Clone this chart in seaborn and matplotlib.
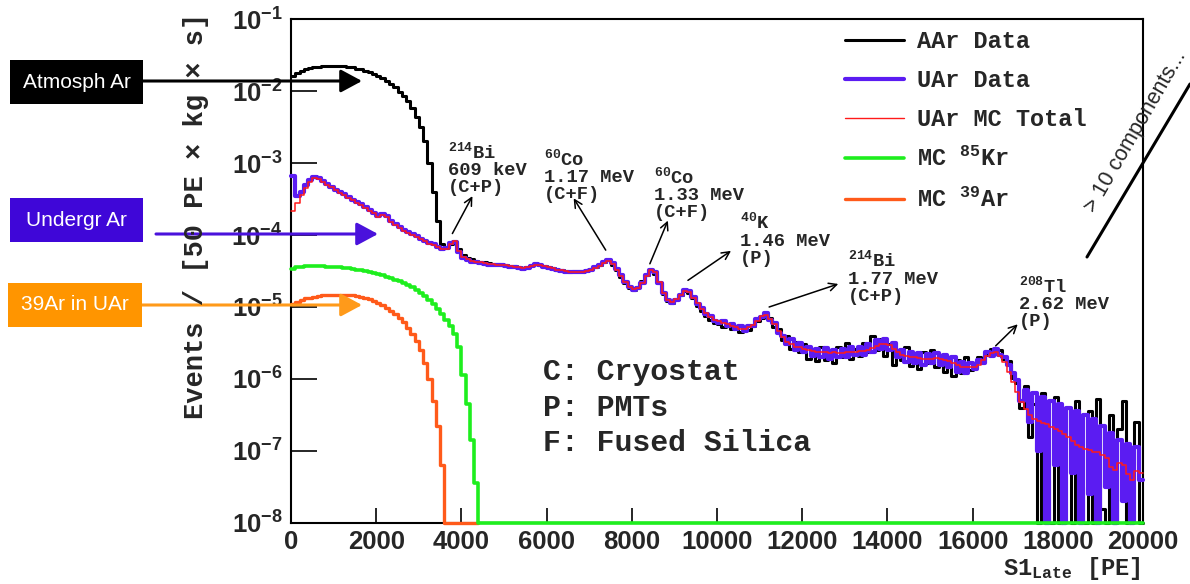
import numpy as np
import pandas as pd
import matplotlib
matplotlib.use("Agg")
import matplotlib.pyplot as plt
import seaborn as sns
from matplotlib.lines import Line2D
from matplotlib.patches import Rectangle
from matplotlib.ticker import LogLocator, FuncFormatter, MultipleLocator, NullFormatter

# ---------------- data (log10 of events / [50 PE x kg x s]) ----------------
BIN_PE = 100
X_MAX = 20000
FLOOR_LOG = -8.0

aar_log = [
    -1.79, -1.75, -1.72, -1.70, -1.68, -1.67, -1.66, -1.655, -1.65, -1.65,
    -1.65, -1.65, -1.655, -1.66, -1.67, -1.69, -1.70, -1.72, -1.74, -1.76,
    -1.79, -1.82, -1.86, -1.90, -1.95, -2.01, -2.07, -2.14, -2.23, -2.36,
    -2.50, -2.69, -3.00, -3.40, -3.80, -4.12, -4.17, -4.13, -4.10, -4.20,
    -4.28, -4.32, -4.34, -4.36, -4.37, -4.38, -4.39, -4.40, -4.40, -4.41,
    -4.42, -4.43, -4.43, -4.45, -4.46, -4.44, -4.42, -4.40, -4.41, -4.43,
    -4.45, -4.46, -4.48, -4.49, -4.50, -4.51, -4.50, -4.50, -4.50, -4.48,
    -4.47, -4.45, -4.41, -4.38, -4.35, -4.41, -4.48, -4.58, -4.66, -4.73,
    -4.76, -4.72, -4.64, -4.55, -4.49, -4.54, -4.67, -4.82, -4.91, -4.94,
    -4.89, -4.84, -4.78, -4.80, -4.88, -4.98, -5.05, -5.12, -5.18, -5.22,
    -5.24, -5.28, -5.26, -5.31, -5.29, -5.35, -5.30, -5.32, -5.26, -5.20,
    -5.15, -5.10, -5.15, -5.28, -5.30, -5.46, -5.40, -5.58, -5.48, -5.62,
    -5.52, -5.72, -5.60, -5.75, -5.56, -5.74, -5.62, -5.78, -5.55, -5.70,
    -5.50, -5.72, -5.58, -5.68, -5.50, -5.62, -5.40, -5.60, -5.45, -5.68,
    -5.52, -5.80, -5.60, -5.74, -5.55, -5.82, -5.64, -5.86, -5.62, -5.78,
    -5.60, -5.84, -5.66, -5.90, -5.72, -5.96, -5.74, -5.92, -5.70, -5.88,
    -5.78, -5.70, -5.72, -5.66, -5.58, -5.62, -5.60, -5.72, -5.75, -5.98,
    -6.05, -6.40, -6.10, -6.80, -6.35, -8.00, -6.20, -7.40, -8.00, -6.25,
    -8.00, -6.90, -6.40, -8.00, -6.30, -7.50, -8.00, -6.45, -8.00, -6.28,
    -7.80, -8.00, -6.50, -8.00, -6.70, -6.30, -8.00, -7.20, -6.60, -8.00,
]

uar_log = [
    -3.18, -3.46, -3.40, -3.30, -3.23, -3.19, -3.21, -3.25, -3.29, -3.33,
    -3.37, -3.40, -3.43, -3.47, -3.51, -3.54, -3.57, -3.61, -3.65, -3.69,
    -3.73, -3.71, -3.74, -3.81, -3.85, -3.89, -3.93, -3.96, -3.99, -4.02,
    -4.05, -4.08, -4.11, -4.13, -4.16, -4.19, -4.18, -4.11, -4.10, -4.23,
    -4.32, -4.35, -4.37, -4.38, -4.39, -4.40, -4.41, -4.41, -4.42, -4.42,
    -4.43, -4.44, -4.45, -4.46, -4.47, -4.46, -4.43, -4.40, -4.41, -4.44,
    -4.46, -4.47, -4.49, -4.50, -4.51, -4.52, -4.52, -4.52, -4.51, -4.50,
    -4.48, -4.45, -4.42, -4.38, -4.35, -4.39, -4.47, -4.56, -4.65, -4.72,
    -4.76, -4.73, -4.66, -4.56, -4.48, -4.52, -4.66, -4.81, -4.90, -4.94,
    -4.90, -4.84, -4.77, -4.78, -4.86, -4.96, -5.02, -5.10, -5.13, -5.19,
    -5.22, -5.20, -5.26, -5.24, -5.30, -5.27, -5.33, -5.26, -5.27, -5.17,
    -5.14, -5.08, -5.18, -5.22, -5.36, -5.40, -5.52, -5.45, -5.60, -5.50,
    -5.62, -5.55, -5.68, -5.58, -5.70, -5.57, -5.72, -5.60, -5.69, -5.58,
    -5.70, -5.55, -5.67, -5.56, -5.66, -5.52, -5.62, -5.46, -5.58, -5.45,
    -5.60, -5.50, -5.70, -5.60, -5.76, -5.62, -5.78, -5.64, -5.80, -5.65,
    -5.78, -5.64, -5.80, -5.66, -5.84, -5.70, -5.90, -5.76, -5.92, -5.78,
    -5.86, -5.74, -5.78, -5.62, -5.68, -5.58, -5.66, -5.70, -5.80, -5.92,
    -6.02, -6.30, -6.15, -6.60, -6.20, -7.00, -6.25, -8.00, -6.30, -7.20,
    -6.35, -8.00, -6.40, -7.30, -6.45, -8.00, -6.50, -7.60, -6.55, -8.00,
    -6.65, -7.50, -6.75, -8.00, -6.85, -7.70, -6.90, -8.00, -6.95, -7.40,
]

mc_total_log = [
    -3.67, -3.55, -3.45, -3.35, -3.26, -3.21, -3.22, -3.26, -3.30, -3.34,
    -3.38, -3.41, -3.44, -3.48, -3.52, -3.55, -3.58, -3.62, -3.66, -3.70,
    -3.75, -3.72, -3.75, -3.82, -3.86, -3.90, -3.94, -3.97, -4.00, -4.03,
    -4.06, -4.09, -4.12, -4.14, -4.17, -4.20, -4.19, -4.12, -4.09, -4.22,
    -4.31, -4.34, -4.36, -4.37, -4.38, -4.39, -4.40, -4.40, -4.41, -4.41,
    -4.42, -4.43, -4.44, -4.45, -4.46, -4.45, -4.43, -4.41, -4.41, -4.43,
    -4.45, -4.46, -4.48, -4.49, -4.50, -4.51, -4.51, -4.51, -4.51, -4.50,
    -4.48, -4.46, -4.43, -4.39, -4.36, -4.40, -4.48, -4.57, -4.65, -4.72,
    -4.75, -4.73, -4.67, -4.57, -4.49, -4.52, -4.65, -4.80, -4.90, -4.93,
    -4.89, -4.83, -4.78, -4.79, -4.87, -4.95, -5.03, -5.09, -5.14, -5.18,
    -5.20, -5.22, -5.24, -5.26, -5.28, -5.30, -5.30, -5.28, -5.25, -5.19,
    -5.13, -5.11, -5.16, -5.24, -5.33, -5.42, -5.48, -5.52, -5.55, -5.56,
    -5.58, -5.60, -5.61, -5.62, -5.63, -5.62, -5.64, -5.63, -5.64, -5.64,
    -5.63, -5.63, -5.62, -5.61, -5.61, -5.60, -5.57, -5.54, -5.52, -5.51,
    -5.53, -5.58, -5.63, -5.66, -5.68, -5.69, -5.70, -5.71, -5.72, -5.72,
    -5.72, -5.71, -5.72, -5.73, -5.75, -5.78, -5.81, -5.83, -5.84, -5.84,
    -5.83, -5.80, -5.74, -5.68, -5.64, -5.63, -5.68, -5.76, -5.90, -6.04,
    -6.18, -6.32, -6.42, -6.50, -6.56, -6.58, -6.61, -6.63, -6.66, -6.70,
    -6.72, -6.76, -6.80, -6.86, -6.92, -6.95, -6.97, -6.99, -7.01, -7.02,
    -7.05, -7.10, -7.22, -7.26, -7.17, -7.20, -7.32, -7.40, -7.28, -7.31,
]

kr85_log = [
    -4.47, -4.45, -4.44, -4.43, -4.43, -4.43, -4.43, -4.43, -4.44, -4.44,
    -4.45, -4.45, -4.46, -4.46, -4.47, -4.48, -4.49, -4.50, -4.51, -4.53,
    -4.54, -4.56, -4.58, -4.60, -4.62, -4.64, -4.66, -4.69, -4.72, -4.76,
    -4.80, -4.85, -4.90, -4.96, -5.03, -5.10, -5.18, -5.27, -5.38, -5.55,
    -5.95, -6.35, -6.85, -7.45, -8.00,
]

ar39_log = [
    -4.96, -4.93, -4.90, -4.88, -4.87, -4.86, -4.85, -4.84, -4.84, -4.83,
    -4.83, -4.83, -4.83, -4.84, -4.84, -4.85, -4.86, -4.87, -4.89, -4.91,
    -4.94, -4.97, -5.01, -5.05, -5.10, -5.15, -5.21, -5.29, -5.37, -5.47,
    -5.60, -5.78, -6.00, -6.30, -6.65, -7.20, -8.00, -8.00, -8.00, -8.00,
    -8.00, -8.00, -8.00, -8.00,
]

series_names = ["AAr Data", "UAr Data", "UAr MC Total", "MC $^{85}$Kr", "MC $^{39}$Ar"]
series_colors = ["#000000", "#5B1CF2", "#FF1A1A", "#1EEE1E", "#FF5A1A"]
series_widths = [2.2, 3.0, 1.1, 2.6, 2.4]
series_zorder = [3.0, 3.1, 3.2, 3.4, 3.3]


def histo_frame(logvals, end_pe):
    pe = list(np.arange(len(logvals)) * BIN_PE) + [end_pe]
    vals = list(logvals) + [logvals[-1]]
    return pd.DataFrame({"pe": pe, "rate": np.power(10.0, vals)})


# ---------------- styling ----------------
sns.set_theme(style="white")
plt.rcParams["font.family"] = ["Liberation Sans", "DejaVu Sans"]
plt.rcParams["font.weight"] = "bold"
plt.rcParams["mathtext.fontset"] = "custom"
plt.rcParams["mathtext.rm"] = "Liberation Mono:bold"
plt.rcParams["mathtext.bf"] = "Liberation Sans:bold"
plt.rcParams["mathtext.it"] = "Liberation Mono:bold"
MONO = ["Liberation Mono", "DejaVu Sans Mono"]

fig = plt.figure(figsize=(11.9, 5.84), dpi=100)
W, H = 1190.0, 584.0
ax = fig.add_axes([291 / W, 1 - 523 / H, (1143 - 291) / W, (523 - 19) / H])
ax.set_yscale("log")
ax.set_xlim(0, X_MAX)
ax.set_ylim(1e-8, 1e-1)

data_sets = [aar_log, uar_log, mc_total_log, kr85_log, ar39_log]
ends = [X_MAX, X_MAX, X_MAX, X_MAX, len(ar39_log) * BIN_PE]
for i in range(5):
    sns.lineplot(data=histo_frame(data_sets[i], ends[i]), x="pe", y="rate", ax=ax,
                 estimator=None, sort=False, drawstyle="steps-post",
                 color=series_colors[i], lw=series_widths[i], legend=False,
                 clip_on=False, zorder=series_zorder[i])

# axes frame & ticks
for sp in ax.spines.values():
    sp.set_linewidth(1.5)
    sp.set_color("black")
ax.xaxis.set_major_locator(MultipleLocator(2000))
ax.xaxis.set_minor_locator(MultipleLocator(500))
ax.yaxis.set_major_locator(LogLocator(base=10, numticks=20))
ax.yaxis.set_minor_locator(LogLocator(base=10, subs=np.arange(2, 10), numticks=20))
ax.yaxis.set_minor_formatter(NullFormatter())
ax.yaxis.set_major_formatter(FuncFormatter(lambda v, p: r"$\mathbf{10^{%d}}$" % int(round(np.log10(v)))))
ax.tick_params(axis="x", which="major", direction="in", length=11, width=1.4, labelsize=18.5, pad=5,
               top=False, bottom=True)
ax.tick_params(axis="x", which="minor", direction="in", length=5, width=1.4, top=False)
ax.tick_params(axis="y", which="major", direction="in", length=19, width=1.4, labelsize=18.5, pad=6,
               right=False, left=True)
ax.tick_params(axis="y", which="minor", direction="in", length=9.5, width=1.4, right=False)
ax.set_xlabel("")
ax.set_ylabel("")
ax.xaxis.label.set_visible(False)
ax.yaxis.label.set_visible(False)

# axis titles
fig.text(196 / W, 1 - 216 / H, "Events / [50 PE × kg × s]", rotation=90,
         ha="center", va="center", family=MONO, fontsize=19.5, fontweight="bold")
fig.text(1141 / W, 1 - 568 / H, r"S1$_{\mathrm{Late}}$ [PE]", ha="right", va="center",
         family=MONO, fontsize=17, fontweight="bold")

# legend
handles = [Line2D([0], [0], color=c, lw=(w if w > 1.5 else 1.0)) for c, w in zip(series_colors, series_widths)]
ax.legend(handles, series_names, loc="upper left", bbox_to_anchor=(845 / W, 1 - 30 / H),
          bbox_transform=fig.transFigure, frameon=False, borderpad=0, borderaxespad=0,
          handlelength=2.5, handletextpad=0.55, labelspacing=0.68,
          prop=dict(family=MONO, weight="bold", size=17))

# peak annotations (text position, arrow tail on peak, arrow head) in PE / log10 rate
annotations = [
    ("$^{214}$Bi\n609 keV\n(C+P)", (3694, -2.70), (3788, -3.98), (4259, -3.46)),
    ("$^{60}$Co\n1.17 MeV\n(C+F)", (5929, -2.80), (7388, -4.21), (6635, -3.49)),
    ("$^{60}$Co\n1.33 MeV\n(C+F)", (8518, -3.05), (8424, -4.40), (8847, -3.80)),
    ("$^{40}$K\n1.46 MeV\n(P)", (10541, -3.68), (9318, -4.63), (10329, -4.22)),
    ("$^{214}$Bi\n1.77 MeV\n(C+P)", (13082, -4.21), (11224, -5.00), (12847, -4.68)),
    ("$^{208}$Tl\n2.62 MeV\n(P)", (17082, -4.56), (16541, -5.54), (17059, -5.24)),
]
for txt, tpos, tail, head in annotations:
    ax.text(tpos[0], 10 ** tpos[1], txt, ha="left", va="top", family=MONO,
            fontsize=13.5, fontweight="bold", linespacing=1.0, zorder=6)
    ax.annotate("", xy=(head[0], 10 ** head[1]), xytext=(tail[0], 10 ** tail[1]),
                arrowprops=dict(arrowstyle="->", color="black", lw=1.1, mutation_scale=14,
                                shrinkA=0, shrinkB=0), zorder=6)

# source legend
for i, line in enumerate(["C: Cryostat", "P: PMTs", "F: Fused Silica"]):
    fig.text(543 / W, 1 - (372 + 35.5 * i) / H, line, ha="left", va="center",
             family=MONO, fontsize=21.5, fontweight="bold")

# left-hand labelled arrows (figure pixels)
labels_left = [
    ("Atmosph Ar", "#000000", "#000000", (10, 60, 133, 44), 81, 143, 362),
    ("Undergr Ar", "#3F06D8", "#4A12DC", (10, 198, 133, 44), 234, 156, 378),
    ("39Ar in UAr", "#FF9500", "#FF9A1A", (8, 283, 134, 44), 305, 142, 362),
]
for txt, fc, ac, (bx, by, bw, bh), ay, ax0, ax1 in labels_left:
    fig.patches.append(Rectangle((bx / W, 1 - (by + bh) / H), bw / W, bh / H,
                                 transform=fig.transFigure, facecolor=fc, edgecolor="none", zorder=5))
    fig.text((bx + bw / 2) / W, 1 - (by + bh / 2) / H, txt, ha="center", va="center",
             color="white", fontsize=15, fontweight="normal", family=["Liberation Sans"], zorder=6)
    ax.annotate("", xy=(ax1, H - ay), xycoords="figure pixels", xytext=(ax0, H - ay),
                textcoords="figure pixels", annotation_clip=False, zorder=8,
                arrowprops=dict(arrowstyle="-|>,head_length=0.65,head_width=0.35", color=ac,
                                lw=2.2, mutation_scale=20, shrinkA=0, shrinkB=0))

# "> 10 components..." note
fig.add_artist(Line2D([1087 / W, 1190 / W], [1 - 257 / H, 1 - 84 / H], color="black", lw=2.2,
                      transform=fig.transFigure))
fig.text(1095 / W, 1 - 214 / H, "> 10 components...", rotation=60, rotation_mode="anchor",
         ha="left", va="baseline", fontsize=15.5, fontweight="normal", family=["Liberation Sans"])

fig.savefig("out.png", dpi=100)
